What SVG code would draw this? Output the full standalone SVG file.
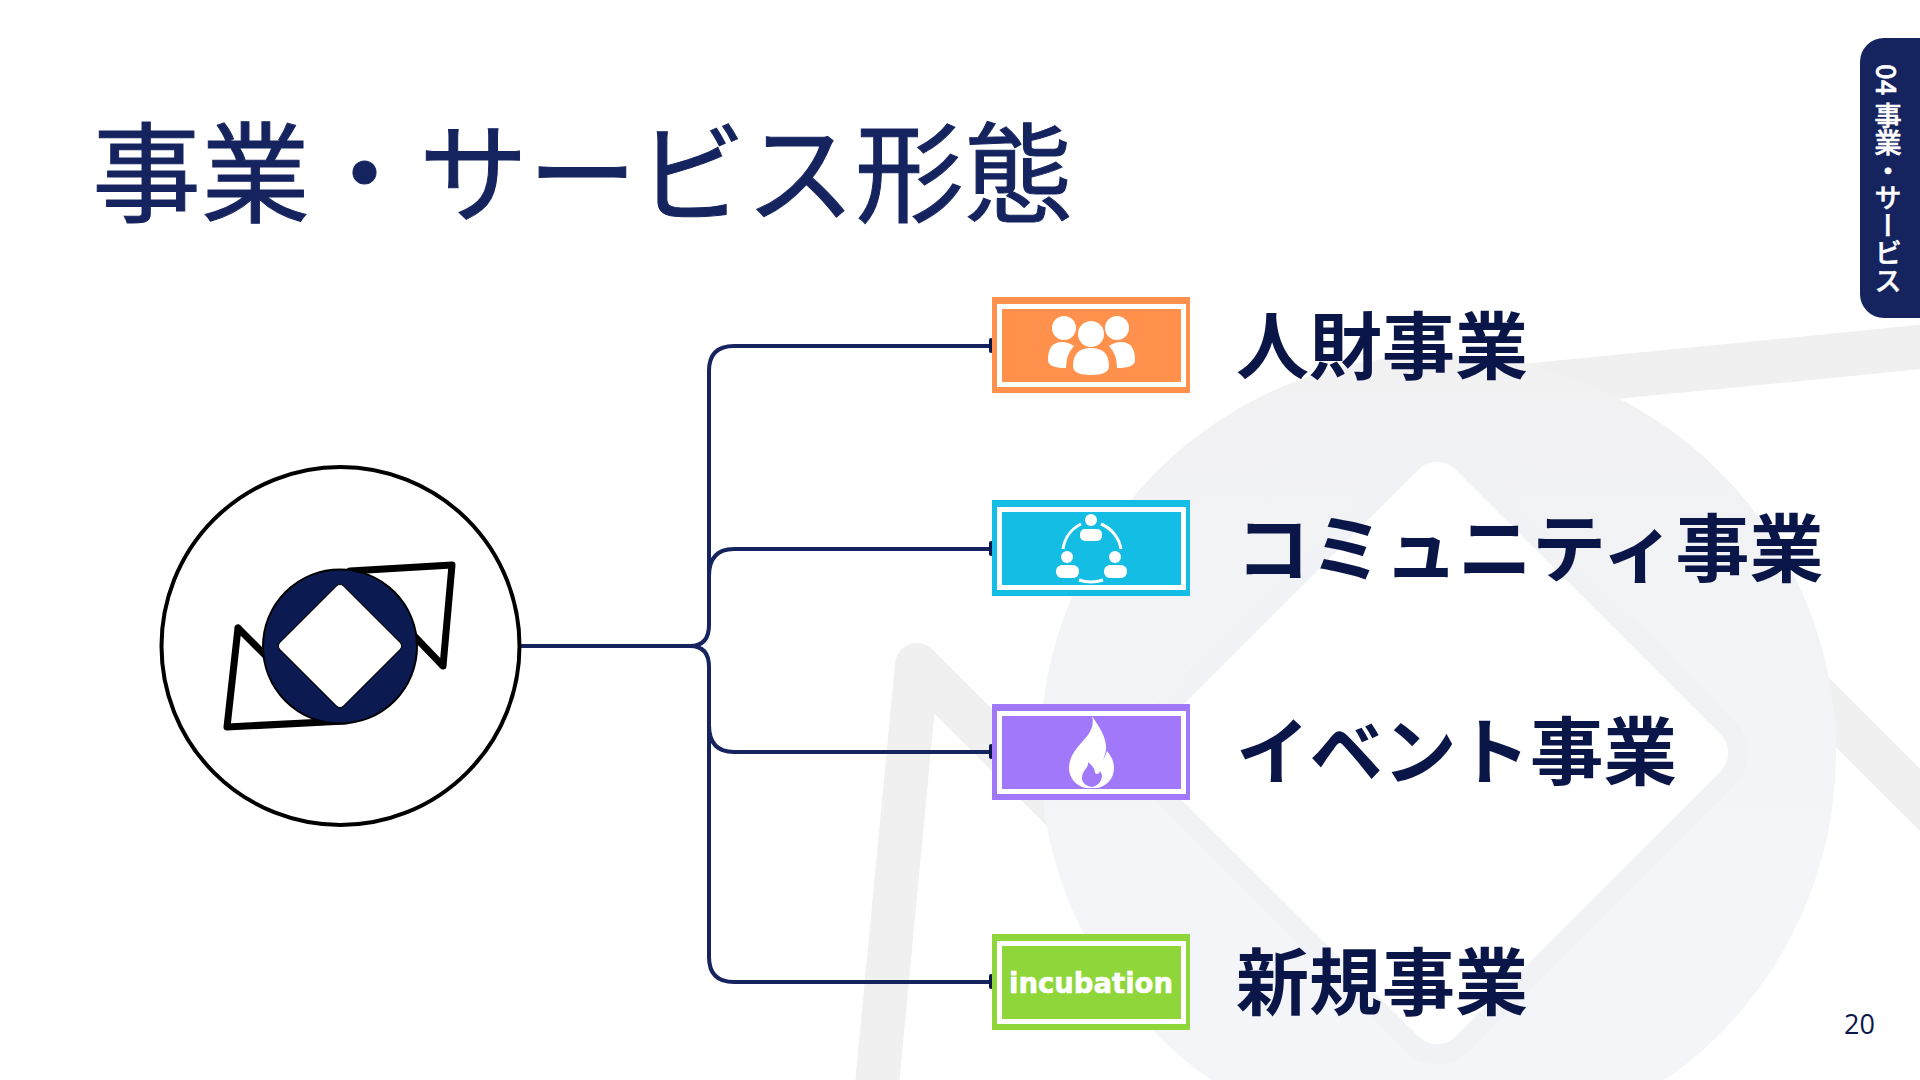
<svg xmlns="http://www.w3.org/2000/svg" width="1920" height="1080" viewBox="0 0 1920 1080">
<defs><linearGradient id="wm" x1="0" y1="0" x2="0" y2="1"><stop offset="0" stop-color="#f1f1f2"/><stop offset="0.6" stop-color="#f3f5f9"/></linearGradient></defs>
<style>
.jp{font-family:"Noto Sans CJK JP","Noto Sans",sans-serif}
.lbl{font-size:73.5px;font-weight:700;fill:#0a1648}
.conn{fill:none;stroke:#15235f;stroke-width:4;stroke-linecap:round}
.cap{fill:#0a1648}
.frame{fill:none;stroke:#fff;stroke-width:5}
.ic{fill:#fff}
</style>
<rect width="1920" height="1080" fill="#fff"/>
<g id="watermark">
<path d="M866 1200L917 665L1100 848M1400 398L1840 355L2018 337M1800 680L1971 851" fill="none" stroke="#f0f0f1" stroke-width="44" stroke-linejoin="round" stroke-linecap="round"/>
<circle cx="1438" cy="753" r="398" fill="url(#wm)"/>
<rect x="1223.500" y="539.500" width="427" height="427" rx="26" transform="rotate(45 1437 753)" fill="#fff" stroke="#f1f2f5" stroke-width="40" paint-order="stroke"/>
</g>
<g id="title"><text class="jp" x="92" y="214" font-size="109" fill="#15245f" stroke="#15245f" stroke-width="1">事業・サービス形態</text></g>
<g id="tab">
<rect x="1860" y="38" width="90" height="280" rx="24" fill="#15235f"/>
<text class="jp" x="1888" y="64" writing-mode="vertical-rl" font-size="27.500" font-weight="500" fill="#fff" stroke="#fff" stroke-width=".5">04 事業・サービス</text>
</g>
<g id="connectors">
<path class="conn" d="M522 646H690Q709 646 709 625V371Q709 346 734 346H990"/>
<path class="conn" d="M709 576Q709 549 734 549H990"/>
<path class="conn" d="M690 646Q709 646 709 667V957Q709 982 734 982H990"/>
<path class="conn" d="M709 725Q709 752 734 752H990"/>
<rect class="cap" x="989" y="338" width="4" height="15" rx="2"/>
<rect class="cap" x="989" y="541" width="4" height="15" rx="2"/>
<rect class="cap" x="989" y="744" width="4" height="15" rx="2"/>
<rect class="cap" x="989" y="974" width="4" height="15" rx="2"/>
</g>
<g id="logo">
<circle cx="340.500" cy="646" r="179" fill="#fff" stroke="#000" stroke-width="4"/>
<path d="M350 571L452 565L443 666L395 616M238 628L290 680M238 628L227 727L345 721" fill="none" stroke="#000" stroke-width="7" stroke-linejoin="round" stroke-linecap="round"/>
<circle cx="340" cy="646.500" r="77" fill="#0b1a50" stroke="#000" stroke-width="2"/>
<rect x="295" y="601" width="90" height="90" rx="5" transform="rotate(45 340 646)" fill="#fff" stroke="#000" stroke-width="1"/>
</g>
<g id="node-jinzai">
<rect x="992" y="297" width="198" height="96" fill="#ff914d"/>
<rect class="frame" x="999.500" y="306.500" width="184" height="78"/>
<g class="ic"><circle cx="1064" cy="328" r="12"/><circle cx="1117" cy="328" r="12"/><path d="M1048 360q0-18 14-18q6 0 12 4q-8 8-8 22q-18 0-18-8z"/><path d="M1135 360q0-18-14-18q-6 0-12 4q8 8 8 22q18 0 18-8z"/><circle cx="1091" cy="334" r="13"/><path d="M1073 366q0-18 18-18q18 0 18 18q0 9-18 9q-18 0-18-9z"/></g>
</g>
<g id="node-community">
<rect x="992" y="500" width="198" height="96" fill="#14bde3"/>
<rect class="frame" x="999.500" y="509.500" width="184" height="78"/>
<g class="ic"><circle cx="1091" cy="520" r="6"/><rect x="1080" y="529" width="22" height="12" rx="5"/><circle cx="1067" cy="557" r="6"/><rect x="1056" y="565" width="23" height="13" rx="6"/><circle cx="1115" cy="557" r="6"/><rect x="1104" y="565" width="23" height="13" rx="6"/><path d="M1063 549A33 33 0 0 1 1081 524M1101 524A33 33 0 0 1 1121 549M1079 580Q1091 584 1103 580" fill="none" stroke="#fff" stroke-width="3"/></g>
</g>
<g id="node-event">
<rect x="992" y="704" width="198" height="96" fill="#a178fa"/>
<rect class="frame" x="999.500" y="713.500" width="184" height="78"/>
<path class="ic" fill-rule="evenodd" d="M1092 716C1100 728 1107 738 1106 750C1105 755 1104 757 1103 760C1105 757 1106 754 1107 751C1111 756 1114 761 1114 768C1114 779 1106 786 1098 788L1086 788C1076 786 1069 778 1069 768C1069 754 1080 745 1088 735C1092 729 1094 723 1092 716ZM1088 762C1089 768 1082 770 1082 778C1082 783 1086 786 1092 787C1098 786 1102 781 1102 775L1100 771C1099 774 1097 775 1095 773C1095 769 1092 765 1088 762Z"/>
</g>
<g id="node-incubation">
<rect x="992" y="934" width="198" height="96" fill="#8fd63a"/>
<rect class="frame" x="999.500" y="943.500" width="184" height="78"/>
<text x="1009" y="993" textLength="164" lengthAdjust="spacingAndGlyphs" font-family="DejaVu Sans,sans-serif" font-weight="700" font-size="28" fill="#fff" stroke="#fff" stroke-width=".6">incubation</text>
</g>
<g id="labels">
<text class="jp lbl" x="1236" y="373" style="font-size:73px">人財事業</text>
<text class="jp lbl" x="1236" y="576" style="font-size:74px">コミュニティ事業</text>
<text class="jp lbl" x="1236" y="779">イベント事業</text>
<text class="jp lbl" x="1236" y="1009" style="font-size:73px">新規事業</text>
</g>
<text id="page" x="1844" y="1034" font-family="Open Sans,sans-serif" font-size="27" fill="#0a1648">20</text>
</svg>
